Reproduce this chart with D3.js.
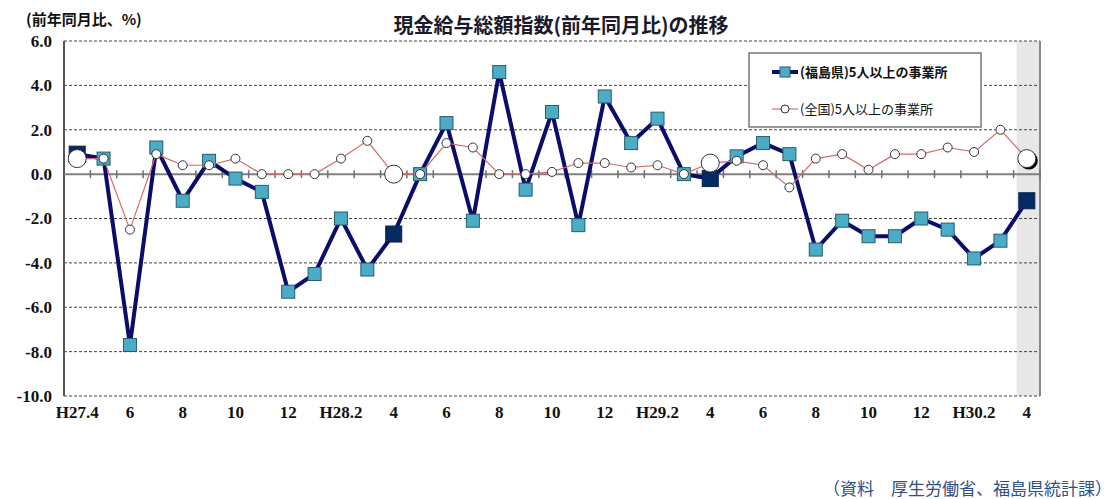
<!DOCTYPE html>
<html>
<head>
<meta charset="utf-8">
<script src="https://cdnjs.cloudflare.com/ajax/libs/d3/7.8.5/d3.min.js"></script>
<style>
  body { margin: 0; background: #fff; }
  .tick-lbl { font-family: "Liberation Serif", serif; font-weight: bold; font-size: 17px; fill: #111; }
  .jp { font-family: "Noto Sans CJK JP", sans-serif; }
</style>
</head>
<body>
<div id="chart"></div>
<script>
// Months H27.4 .. H30.4
var categories = ["H27.4", "5", "6", "7", "8", "9", "10", "11", "12",
    "H28.1", "2", "3", "4", "5", "6", "7", "8", "9", "10", "11", "12",
    "H29.1", "2", "3", "4", "5", "6", "7", "8", "9", "10", "11", "12",
    "H30.1", "2", "3", "4"];

// Labels printed under every second month
var xLabels = ["H27.4", "6", "8", "10", "12", "H28.2", "4", "6", "8", "10",
    "12", "H29.2", "4", "6", "8", "10", "12", "H30.2", "4"];

// Fukushima, 5+ employees (%)
var fukushima = [0.9, 0.7, -7.7, 1.2, -1.2, 0.6, -0.2, -0.8, -5.3,
    -4.5, -2.0, -4.3, -2.7, 0.0, 2.3, -2.1, 4.6, -0.7, 2.8, -2.3, 3.5,
    1.4, 2.5, 0.0, -0.2, 0.8, 1.4, 0.9, -3.4, -2.1, -2.8, -2.8, -2.0,
    -2.5, -3.8, -3.0, -1.2];

// National, 5+ employees (%)
var national = [0.7, 0.7, -2.5, 0.9, 0.4, 0.4, 0.7, 0.0, 0.0,
    0.0, 0.7, 1.5, 0.0, 0.0, 1.4, 1.2, 0.0, 0.0, 0.1, 0.5, 0.5,
    0.3, 0.4, 0.0, 0.5, 0.6, 0.4, -0.6, 0.7, 0.9, 0.2, 0.9, 0.9,
    1.2, 1.0, 2.0, 0.7];

var yTicks = [6, 4, 2, 0, -2, -4, -6, -8, -10];

var legendLabels = ["(福島県)5人以上の事業所", "(全国)5人以上の事業所"];

// SVG params
var svgWdt = 1116;
var svgHgt = 499;
var plot = { left: 64, top: 41, right: 1040, bottom: 396 };

var svg = d3.select("#chart").append("svg")
    .attr("width", svgWdt)
    .attr("height", svgHgt);

// Scales
var xScale = d3.scaleBand()
    .domain(d3.range(categories.length))
    .range([plot.left, plot.right]);
var xMid = i => xScale(i) + xScale.bandwidth() / 2;

var yScale = d3.scaleLinear()
    .domain([-10, 6])
    .range([plot.bottom, plot.top]);

// Shade the latest month
svg.append("rect")
    .attr("x", xScale(categories.length - 1) + 3)
    .attr("y", plot.top)
    .attr("width", plot.right - xScale(categories.length - 1) - 3)
    .attr("height", plot.bottom - plot.top)
    .attr("fill", "#e7e7e7");

// Dashed gridlines
svg.append("g").selectAll("line").data(yTicks.filter(d => d !== 0))
    .enter()
    .append("line")
        .attr("x1", plot.left)
        .attr("x2", plot.right)
        .attr("y1", d => yScale(d))
        .attr("y2", d => yScale(d))
        .attr("stroke", "#444")
        .attr("stroke-width", 1)
        .attr("stroke-dasharray", "3,2");

// Left and right border
svg.append("line")
    .attr("x1", plot.left).attr("x2", plot.left)
    .attr("y1", plot.top).attr("y2", plot.bottom)
    .attr("stroke", "#555").attr("stroke-width", 2);
svg.append("line")
    .attr("x1", plot.right).attr("x2", plot.right)
    .attr("y1", plot.top).attr("y2", plot.bottom)
    .attr("stroke", "#888").attr("stroke-width", 2);

// Y axis labels
var yAxis = svg.append("g")
    .attr("transform", `translate(${plot.left}, 0)`)
    .call(d3.axisLeft(yScale).tickValues(yTicks).tickSize(0).tickPadding(12));
yAxis.select(".domain").remove();
yAxis.selectAll("text").attr("class", "tick-lbl").attr("font-family", null).attr("font-size", null)
    .text(d => d < 0 ? "-" + Math.abs(d).toFixed(1) : d.toFixed(1));

// Zero line with month ticks
var zeroY = yScale(0);
svg.append("line")
    .attr("x1", plot.left).attr("x2", plot.right)
    .attr("y1", zeroY).attr("y2", zeroY)
    .attr("stroke", "#808080").attr("stroke-width", 2);
svg.append("g").selectAll("line").data(d3.range(1, categories.length + 1))
    .enter()
    .append("line")
        .attr("x1", d => plot.left + d * xScale.bandwidth())
        .attr("x2", d => plot.left + d * xScale.bandwidth())
        .attr("y1", zeroY - 4)
        .attr("y2", zeroY + 4)
        .attr("stroke", "#707070")
        .attr("stroke-width", 1.5);

// X axis labels (every second month)
svg.append("g").selectAll("text").data(xLabels)
    .enter()
    .append("text")
        .attr("class", "tick-lbl")
        .attr("x", (d, i) => xMid(i * 2))
        .attr("y", 418)
        .attr("text-anchor", "middle")
        .text(d => d);

// Fukushima line
var line = d3.line()
    .x((d, i) => xMid(i))
    .y(d => yScale(d));

svg.append("path")
    .datum(fukushima)
    .attr("d", line)
    .attr("fill", "none")
    .attr("stroke", "#0c0c6a")
    .attr("stroke-width", 4)
    .attr("stroke-linejoin", "miter");

// Fukushima markers (April points dark and bigger)
svg.append("g").selectAll("rect").data(fukushima)
    .enter()
    .append("rect")
        .each(function(d, i) {
            var apr = (i % 12 === 0);
            var s = apr ? 16 : 13;
            d3.select(this)
                .attr("x", xMid(i) - s / 2)
                .attr("y", yScale(d) - s / 2)
                .attr("width", s)
                .attr("height", s)
                .attr("fill", apr ? "#062a63" : "#4bacc6")
                .attr("stroke", apr ? "#0a1f4a" : "#2a5a6c")
                .attr("stroke-width", 1);
        });

// National line
svg.append("path")
    .datum(national)
    .attr("d", line)
    .attr("fill", "none")
    .attr("stroke", "#d46a6a")
    .attr("stroke-width", 1.2);

// Shadow behind latest national point
var last = national.length - 1;
svg.append("circle")
    .attr("cx", xMid(last) + 2)
    .attr("cy", yScale(national[last]) + 2)
    .attr("r", 9)
    .attr("fill", "#000");

// National markers
svg.append("g").selectAll("circle").data(national)
    .enter()
    .append("circle")
        .attr("cx", (d, i) => xMid(i))
        .attr("cy", d => yScale(d))
        .attr("r", (d, i) => (i % 12 === 0) ? 9 : 4.5)
        .attr("fill", "#fff")
        .attr("stroke", "#333")
        .attr("stroke-width", 1);

// Legend
var lg = svg.append("g");
lg.append("rect")
    .attr("x", 749).attr("y", 53)
    .attr("width", 232).attr("height", 74)
    .attr("fill", "#fff")
    .attr("stroke", "#777")
    .attr("stroke-width", 1.5);
lg.append("line")
    .attr("x1", 772).attr("x2", 798).attr("y1", 72).attr("y2", 72)
    .attr("stroke", "#0c0c6a").attr("stroke-width", 4);
lg.append("rect")
    .attr("x", 780).attr("y", 67).attr("width", 10).attr("height", 10)
    .attr("fill", "#4bacc6").attr("stroke", "#2a5a6c");
lg.append("line")
    .attr("x1", 772).attr("x2", 798).attr("y1", 109).attr("y2", 109)
    .attr("stroke", "#d46a6a").attr("stroke-width", 1.2);
lg.append("circle")
    .attr("cx", 785).attr("cy", 109).attr("r", 4)
    .attr("fill", "#fff").attr("stroke", "#333");
lg.selectAll("text").data(legendLabels)
    .enter()
    .append("text")
        .attr("class", "jp")
        .attr("x", 800)
        .attr("y", (d, i) => i === 0 ? 77 : 114)
        .attr("font-size", 13)
        .attr("font-weight", (d, i) => i === 0 ? "bold" : "normal")
        .attr("fill", "#111")
        .text(d => d);

// Title and unit
svg.append("text")
    .attr("class", "jp")
    .attr("x", 561)
    .attr("y", 33)
    .attr("text-anchor", "middle")
    .attr("font-size", 20)
    .attr("font-weight", "bold")
    .attr("fill", "#1a1a2a")
    .text("現金給与総額指数(前年同月比)の推移");

svg.append("text")
    .attr("class", "jp")
    .attr("x", 26)
    .attr("y", 25)
    .attr("font-size", 15)
    .attr("font-weight", "bold")
    .attr("fill", "#111")
    .text("(前年同月比、%)");

// Source note
svg.append("text")
    .attr("class", "jp")
    .attr("x", 1112)
    .attr("y", 495)
    .attr("text-anchor", "end")
    .attr("font-size", 17)
    .attr("fill", "#2f4f88")
    .text("（資料　厚生労働省、福島県統計課）");
</script>
</body>
</html>
